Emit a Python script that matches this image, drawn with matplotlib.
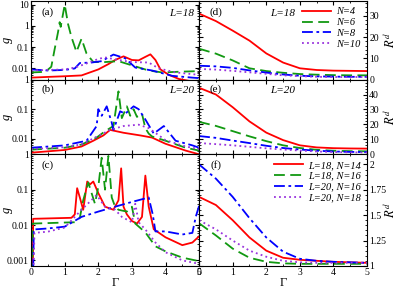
import matplotlib
matplotlib.use('Agg')
import matplotlib.pyplot as plt
from matplotlib.ticker import MultipleLocator, FixedLocator
import numpy as np

plt.rcParams['font.family'] = ['Liberation Serif', 'DejaVu Serif']
plt.rcParams['mathtext.fontset'] = 'stix'

# ---- panel (a): g, L=18 ----
a_red_x = [0, 0.5, 1.0, 1.5, 2.0, 2.3, 2.5, 2.75, 3.0, 3.2, 3.4, 3.55, 3.7, 3.85, 4.1, 4.4, 4.7, 5.0]
a_red_y = [0.0037, 0.004, 0.0043, 0.0047, 0.009, 0.016, 0.025, 0.037, 0.025, 0.024, 0.035, 0.046, 0.025, 0.009, 0.005, 0.0032, 0.0026, 0.0024]
a_green_x = [0, 0.3, 0.47, 0.6, 0.7, 0.8, 0.85, 0.88, 1.0, 1.1, 1.2, 1.35, 1.5, 1.65, 1.85, 2.2, 2.6, 3.0, 3.5, 3.9, 4.4, 5.0]
a_green_y = [0.0065, 0.0068, 0.008, 0.012, 0.08, 0.5, 1.5, 0.9, 10, 1.2, 0.3, 0.06, 0.25, 0.05, 0.02, 0.02, 0.022, 0.014, 0.008, 0.0065, 0.007, 0.0075]
a_blue_x = [0, 0.5, 1.0, 1.3, 1.45, 1.8, 2.1, 2.45, 2.8, 3.1, 3.6, 4.2, 4.8, 5.0]
a_blue_y = [0.009, 0.008, 0.0085, 0.01, 0.018, 0.019, 0.022, 0.045, 0.03, 0.011, 0.008, 0.0045, 0.0037, 0.0035]
a_purple_x = [0, 0.5, 1.0, 1.3, 1.6, 2.0, 2.2, 2.6, 3.0, 3.5, 3.8, 4.3, 5.0]
a_purple_y = [0.008, 0.0085, 0.009, 0.011, 0.016, 0.028, 0.033, 0.025, 0.02, 0.019, 0.01, 0.0065, 0.005]

# ---- panel (b): g, L=20 ----
b_red_x = [0, 1, 1.5, 1.85, 2.15, 2.35, 2.75, 3.25, 3.6, 4.0, 4.6, 5.0]
b_red_y = [0.0034, 0.0042, 0.0055, 0.0086, 0.013, 0.02, 0.016, 0.013, 0.011, 0.0068, 0.004, 0.003]
b_green_x = [0, 1, 1.5, 1.95, 2.2, 2.45, 2.6, 2.7, 2.85, 2.95, 3.05, 3.15, 3.3, 3.4, 3.5, 3.6, 4.0, 4.6, 5.0]
b_green_y = [0.0043, 0.005, 0.0064, 0.011, 0.018, 0.027, 0.4, 0.05, 0.125, 0.06, 0.1, 0.055, 0.07, 0.023, 0.015, 0.012, 0.0086, 0.005, 0.004]
b_blue_x = [0, 1, 1.65, 1.95, 2.0, 2.1, 2.25, 2.4, 2.45, 2.65, 2.8, 3.05, 3.2, 3.4, 3.65, 3.95, 4.3, 4.8, 5.0]
b_blue_y = [0.005, 0.006, 0.0086, 0.027, 0.1, 0.06, 0.125, 0.035, 0.02, 0.085, 0.07, 0.125, 0.1, 0.045, 0.015, 0.027, 0.0086, 0.006, 0.005]
b_purple_x = [0, 1, 1.5, 1.9, 2.35, 2.75, 3.2, 3.5, 4.0, 4.6, 5.0]
b_purple_y = [0.0045, 0.0052, 0.0065, 0.011, 0.02, 0.027, 0.03, 0.023, 0.009, 0.0055, 0.0045]

# ---- panel (c): g, mixed L,N ----
c_red_x = [0.05, 0.06, 1.2, 1.3, 1.37, 1.45, 1.55, 1.67, 1.75, 1.85, 2.0, 2.2, 2.45, 2.6, 2.68, 2.75, 2.85, 3.0, 3.15, 3.3, 3.4, 3.5, 3.65, 4.0, 4.5, 4.8, 5.0]
c_red_y = [0.0001, 0.015, 0.016, 0.02, 0.11, 0.06, 0.027, 0.17, 0.14, 0.17, 0.08, 0.033, 0.027, 0.05, 0.4, 0.033, 0.02, 0.013, 0.011, 0.017, 0.25, 0.033, 0.0076, 0.0045, 0.0027, 0.0032, 0.0048]
c_green_x = [0.02, 0.05, 1.3, 1.45, 1.55, 1.7, 1.8, 1.9, 2.0, 2.1, 2.2, 2.3, 2.4, 2.5, 2.6, 2.85, 3.0, 3.1, 3.4, 3.7, 4.0, 4.5, 5.0]
c_green_y = [0.0001, 0.011, 0.012, 0.016, 0.05, 0.16, 0.08, 0.04, 0.12, 0.8, 0.1, 0.9, 0.06, 0.033, 0.027, 0.024, 0.033, 0.011, 0.0062, 0.0025, 0.0018, 0.0012, 0.00095]
c_blue_x = [0.05, 0.08, 0.5, 1, 1.5, 2, 2.5, 3, 3.5, 3.62, 3.7, 4.0, 4.5, 4.8, 4.9, 5.0]
c_blue_y = [0.0001, 0.0075, 0.008, 0.009, 0.017, 0.024, 0.033, 0.045, 0.06, 0.02, 0.0066, 0.0066, 0.0054, 0.006, 0.017, 0.035]
c_purple_x = [0.05, 0.1, 0.5, 1, 1.5, 1.95, 2.2, 2.5, 2.7, 3.0, 3.1, 3.2, 3.4, 3.7, 4.0, 4.5, 5.0]
c_purple_y = [0.0001, 0.006, 0.0065, 0.0085, 0.027, 0.07, 0.033, 0.027, 0.017, 0.012, 0.04, 0.012, 0.0075, 0.0032, 0.0017, 0.001, 0.0008]

# ---- right column: R^d on a common Gamma grid ----
gam = [0, 0.5, 1.0, 1.5, 2.0, 2.5, 3.0, 3.5, 4.0, 4.5, 5.0]
d_red = [31, 27.5, 23, 18.3, 12.3, 8, 5.3, 4.5, 4.2, 4.1, 4.0]
d_green = [14.5, 12.2, 9, 5.3, 4, 3.2, 2.6, 2.3, 2.1, 2.0, 2.0]
d_blue = [6.5, 6.2, 5.5, 4.3, 3.3, 2.4, 1.8, 1.5, 1.4, 1.3, 1.3]
d_purple = [5, 4.7, 4.1, 3.4, 2.7, 2.0, 1.6, 1.3, 1.2, 1.2, 1.2]

e_red = [44.5, 40, 31.5, 22, 14.5, 9.5, 6, 4.6, 4.1, 3.9, 3.8]
e_green = [21.7, 19, 15.5, 12, 8.8, 6, 4.2, 3, 2.4, 2.1, 2.0]
e_blue = [12.2, 11, 9.2, 7.5, 5.7, 4.2, 3.2, 2.4, 1.9, 1.6, 1.5]
e_purple = [7.5, 6.8, 6, 5, 4, 3.2, 2.5, 1.9, 1.5, 1.3, 1.2]

f_red = [1.68, 1.6, 1.45, 1.28, 1.15, 1.08, 1.06, 1.05, 1.04, 1.035, 1.03]
f_green = [1.42, 1.3, 1.17, 1.08, 1.04, 1.025, 1.02, 1.02, 1.02, 1.02, 1.02]
f_blue = [2.0, 1.86, 1.68, 1.47, 1.28, 1.14, 1.07, 1.05, 1.04, 1.035, 1.03]
f_purple = [1.45, 1.36, 1.25, 1.15, 1.09, 1.05, 1.035, 1.03, 1.03, 1.03, 1.03]

legend_top = ['N=4', 'N=6', 'N=8', 'N=10']
legend_bot = ['L=18, N=14', 'L=18, N=16', 'L=20, N=16', 'L=20, N=18']

RED, GREEN, BLUE, PURPLE = '#ff0000', '#119911', '#0000ff', '#9933dd'
styles = [
    dict(color=RED, ls='-'),
    dict(color=GREEN, ls=(0, (6, 3))),
    dict(color=BLUE, ls=(0, (6, 2, 1.5, 2))),
    dict(color=PURPLE, ls=(0, (1, 1.8))),
]
LW = 1.3

fig = plt.figure(figsize=(3.99, 2.89), dpi=100)
gs = fig.add_gridspec(3, 2, height_ratios=[79, 75, 112], hspace=0, wspace=0,
                      left=0.078, right=0.92, top=0.997, bottom=0.08)
ax_a = fig.add_subplot(gs[0, 0])
ax_b = fig.add_subplot(gs[1, 0])
ax_c = fig.add_subplot(gs[2, 0])
ax_d = fig.add_subplot(gs[0, 1])
ax_e = fig.add_subplot(gs[1, 1])
ax_f = fig.add_subplot(gs[2, 1])

left_data = [
    (ax_a, [(a_red_x, a_red_y), (a_green_x, a_green_y), (a_blue_x, a_blue_y), (a_purple_x, a_purple_y)]),
    (ax_b, [(b_red_x, b_red_y), (b_green_x, b_green_y), (b_blue_x, b_blue_y), (b_purple_x, b_purple_y)]),
    (ax_c, [(c_red_x, c_red_y), (c_green_x, c_green_y), (c_blue_x, c_blue_y), (c_purple_x, c_purple_y)]),
]
for ax, series in left_data:
    for (x, y), st in zip(series, styles):
        ax.plot(x, y, lw=LW, **st)
    ax.set_yscale('log')
    ax.set_xlim(0, 5)
    ax.set_ylabel('g', fontstyle='italic', fontsize=9)
    ax.yaxis.set_label_coords(-0.11, 0.5)

ax_a.set_ylim(0.003, 15)
ax_a.yaxis.set_major_locator(FixedLocator([0.01, 0.1, 1, 10]))
ax_a.set_yticklabels(['0.01', '0.1', '1', '10'])
ax_b.set_ylim(0.003, 1)
ax_b.yaxis.set_major_locator(FixedLocator([0.01, 0.1, 1]))
ax_b.set_yticklabels(['0.01', '0.1', '1'])
ax_c.set_ylim(0.0007, 1)
ax_c.yaxis.set_major_locator(FixedLocator([0.001, 0.01, 0.1, 1]))
ax_c.set_yticklabels(['0.001', '0.01', '0.1', '1'])

right_data = [
    (ax_d, [d_red, d_green, d_blue, d_purple]),
    (ax_e, [e_red, e_green, e_blue, e_purple]),
    (ax_f, [f_red, f_green, f_blue, f_purple]),
]
lines_d, lines_f = [], []
for ax, series in right_data:
    for y, st in zip(series, styles):
        ln, = ax.plot(gam, y, lw=LW, **st)
        if ax is ax_d:
            lines_d.append(ln)
        if ax is ax_f:
            lines_f.append(ln)
    ax.set_xlim(0, 5)
    ax.yaxis.tick_right()
    ax.yaxis.set_label_position('right')
    ax.set_ylabel('$R^d$', fontsize=9, rotation=90, va='center')
    ax.yaxis.set_label_coords(1.135, 0.5)

ax_d.set_ylim(0, 37)
ax_d.yaxis.set_major_locator(MultipleLocator(10))
ax_d.yaxis.set_minor_locator(MultipleLocator(2))
ax_e.set_ylim(0, 50)
ax_e.yaxis.set_major_locator(FixedLocator([0, 10, 20, 30, 40]))
ax_e.yaxis.set_minor_locator(MultipleLocator(2))
ax_f.set_ylim(1, 2.1)
ax_f.yaxis.set_major_locator(FixedLocator([1, 1.25, 1.5, 1.75, 2]))
ax_f.set_yticklabels(['1', '1.25', '1.5', '1.75', '2'])
ax_f.yaxis.set_minor_locator(MultipleLocator(0.05))

for ax in [ax_a, ax_b, ax_c, ax_d, ax_e, ax_f]:
    ax.xaxis.set_major_locator(MultipleLocator(1))
    ax.xaxis.set_minor_locator(MultipleLocator(0.5))
    ax.tick_params(which='both', direction='in', top=True, bottom=True, left=True, right=True,
                   labelsize=7, pad=1.5)
    ax.tick_params(which='major', length=3)
    ax.tick_params(which='minor', length=1.5)
    for s in ax.spines.values():
        s.set_linewidth(0.8)

for ax in [ax_a, ax_b, ax_d, ax_e]:
    ax.tick_params(labelbottom=False)
for ax in [ax_d, ax_e, ax_f]:
    ax.tick_params(labelleft=False, labelright=True)

ax_c.set_xticks([0, 1, 2, 3, 4, 5])
ax_c.set_xticklabels(['0', '1', '2', '3', '4', '5'])
ax_c.set_xlabel('Γ', fontsize=9, labelpad=0)
ax_f.set_xlabel('Γ', fontsize=9, labelpad=0)

# panel labels
for ax, lab, yy in [(ax_a, '(a)', 0.86), (ax_b, '(b)', 0.87), (ax_c, '(c)', 0.9),
                    (ax_d, '(d)', 0.86), (ax_e, '(e)', 0.87), (ax_f, '(f)', 0.9)]:
    ax.text(0.1, yy, lab, transform=ax.transAxes, fontsize=8, ha='center', va='center')

ax_a.text(0.97, 0.84, 'L=18', transform=ax_a.transAxes, fontsize=8, fontstyle='italic', ha='right', va='center')
ax_b.text(0.97, 0.85, 'L=20', transform=ax_b.transAxes, fontsize=8, fontstyle='italic', ha='right', va='center')
ax_d.text(0.5, 0.84, 'L=18', transform=ax_d.transAxes, fontsize=8, fontstyle='italic', ha='center', va='center')
ax_e.text(0.5, 0.85, 'L=20', transform=ax_e.transAxes, fontsize=8, fontstyle='italic', ha='center', va='center')

leg_kw = dict(frameon=False, fontsize=7.5, handlelength=2.8, handletextpad=0.5,
              labelspacing=0.15, borderaxespad=0.2)
leg1 = ax_d.legend(lines_d, legend_top, loc='upper right', **leg_kw)
for t in leg1.get_texts():
    t.set_fontstyle('italic')
leg2 = ax_f.legend(lines_f, legend_bot, loc='upper right', **leg_kw)
for t in leg2.get_texts():
    t.set_fontstyle('italic')

fig.savefig('out.png', dpi=100)
